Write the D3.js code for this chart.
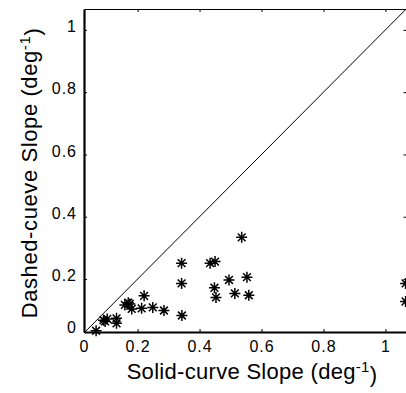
<!DOCTYPE html>
<html>
<head>
<meta charset="utf-8">
<script src="https://cdn.jsdelivr.net/npm/d3@7"></script>
<style>
  body { margin: 0; background: #fff; }
  svg { display: block; font-family: "Liberation Sans", Arial, Helvetica, sans-serif; }
</style>
</head>
<body>
<div id="chart-area"></div>
<script>
// slopes (deg^-1)
var solidSlope = [0.066, 0.090, 0.102, 0.095, 0.132, 0.132, 0.159, 0.170, 0.175, 0.181,
                  0.221, 0.213, 0.249, 0.285, 0.343, 0.342, 0.342, 0.434, 0.450, 0.448,
                  0.453, 0.495, 0.514, 0.536, 0.553, 0.559, 1.065, 1.065];
var dashedSlope = [0.034, 0.068, 0.072, 0.064, 0.074, 0.058, 0.117, 0.124, 0.120, 0.104,
                   0.146, 0.106, 0.109, 0.099, 0.083, 0.186, 0.251, 0.251, 0.256, 0.172,
                   0.141, 0.197, 0.154, 0.334, 0.206, 0.148, 0.186, 0.128];

var xRange = [0.027, 1.068];
var yRange = [0.030, 1.067];
var tickValues = [0.2, 0.4, 0.6, 0.8, 1];
var tickLabels = ["0.2", "0.4", "0.6", "0.8", "1"];
var originLabel = "0";
var unity = [0.030, 1.067]; // y = x reference line

var margin = { left: 84, right: -0.5, top: 9, bottom: 61 };
var W = 406, H = 393;
var width = W - margin.left - margin.right;
var height = H - margin.top - margin.bottom;

var svg = d3.select("#chart-area").append("svg")
    .attr("width", W)
    .attr("height", H);

var g = svg.append("g")
    .attr("transform", "translate(" + margin.left + "," + margin.top + ")");

var x = d3.scaleLinear().domain(xRange).range([0, width]);
var y = d3.scaleLinear().domain(yRange).range([height, 0]);

// tick values incl. the "0" that sits on the corner
var xTickVals = [xRange[0]].concat(tickValues);
var yTickVals = [yRange[0]].concat(tickValues);
var labels = [originLabel].concat(tickLabels);

function styleAxis(sel, w) {
    sel.select(".domain").attr("stroke", "#000").attr("stroke-width", w);
    sel.selectAll(".tick line").attr("stroke", "#000").attr("stroke-width", 1);
    sel.selectAll(".tick text")
        .attr("fill", "#000")
        .attr("font-size", "16px")
        .attr("letter-spacing", "1px");
}

// top + right (box)
g.append("g")
    .call(d3.axisTop(x).tickValues(tickValues).tickSize(-3).tickSizeOuter(0).tickFormat(""))
    .call(styleAxis, 1.2);
g.append("g")
    .attr("transform", "translate(" + width + ",0)")
    .call(d3.axisRight(y).tickValues(tickValues).tickSize(-3).tickSizeOuter(0).tickFormat(""))
    .call(styleAxis, 1.2);

// bottom axis
var xAxis = g.append("g")
    .attr("transform", "translate(0," + height + ")")
    .call(d3.axisBottom(x).tickValues(xTickVals).tickSize(-3).tickSizeOuter(0).tickPadding(9)
        .tickFormat(function (d, i) { return labels[i]; }))
    .call(styleAxis, 2.2);

// left axis
var yAxis = g.append("g")
    .call(d3.axisLeft(y).tickValues(yTickVals).tickSize(-3).tickSizeOuter(0).tickPadding(7)
        .tickFormat(function (d, i) { return labels[i]; }))
    .call(styleAxis, 2.2);
yAxis.selectAll(".tick text").attr("dy", "0.1em");
yAxis.selectAll(".tick").filter(function (d, i) { return i === 0; }).select("text").attr("dy", "0.05em");

// unity line
g.append("line")
    .attr("x1", x(unity[0])).attr("y1", y(unity[0]))
    .attr("x2", x(unity[1])).attr("y2", y(unity[1]))
    .attr("stroke", "#000")
    .attr("stroke-width", 1);

// asterisk markers
function star(r) {
    var d = r * Math.SQRT1_2;
    return "M" + (-r) + ",0L" + r + ",0" +
        "M0," + (-r) + "L0," + r +
        "M" + (-d) + "," + (-d) + "L" + d + "," + d +
        "M" + (-d) + "," + d + "L" + d + "," + (-d);
}

g.selectAll(".pt")
    .data(solidSlope)
    .enter().append("path")
    .attr("class", "pt")
    .attr("d", star(5.5))
    .attr("transform", function (d, i) {
        return "translate(" + x(d) + "," + y(dashedSlope[i]) + ")";
    })
    .attr("fill", "none")
    .attr("stroke", "#000")
    .attr("stroke-width", 1.5);

// X Label
var xl = svg.append("text")
    .attr("x", 252)
    .attr("y", 379)
    .attr("text-anchor", "middle")
    .attr("font-size", "22px")
    .attr("letter-spacing", "0.3px")
    .attr("fill", "#000");
xl.append("tspan").text("Solid-curve Slope (deg");
xl.append("tspan").attr("dy", "-0.45em").attr("font-size", "15px").text("-1");
xl.append("tspan").attr("dy", "0.45em").text(")");

// Y Label
var yl = svg.append("text")
    .attr("transform", "translate(37,173) rotate(-90)")
    .attr("text-anchor", "middle")
    .attr("font-size", "22px")
    .attr("letter-spacing", "0.6px")
    .attr("fill", "#000");
yl.append("tspan").text("Dashed-cueve Slope (deg");
yl.append("tspan").attr("dy", "-0.45em").attr("font-size", "15px").text("-1");
yl.append("tspan").attr("dy", "0.45em").text(")");
</script>
</body>
</html>
